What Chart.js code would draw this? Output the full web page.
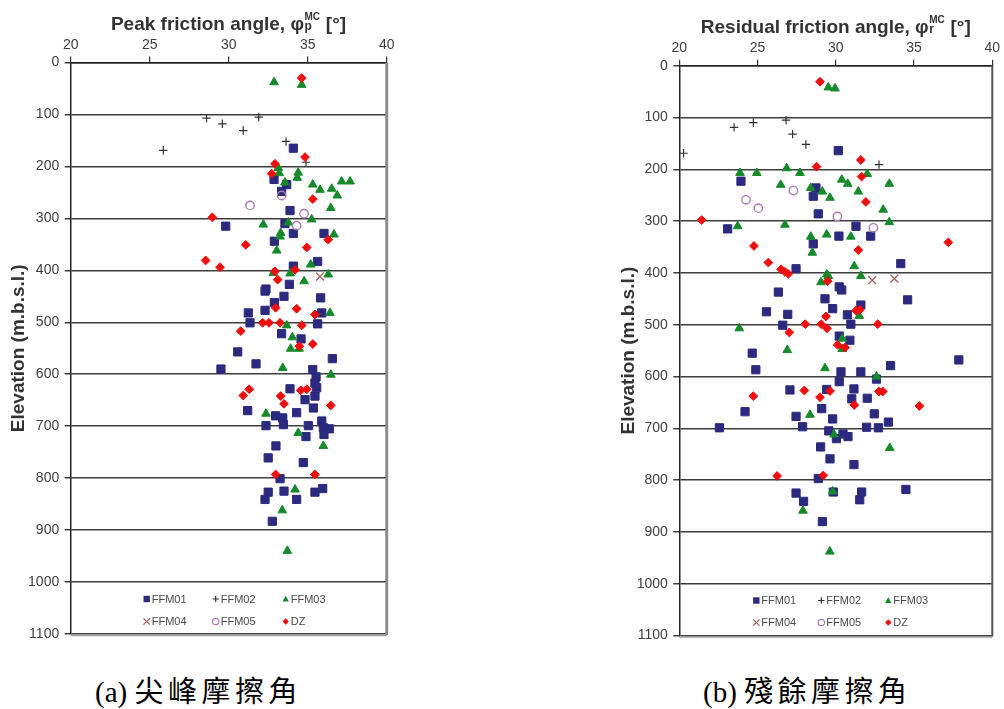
<!DOCTYPE html>
<html><head><meta charset="utf-8">
<script src="https://cdn.jsdelivr.net/npm/chart.js@4"></script>
<style>
html,body{margin:0;padding:0;background:#fff;width:1004px;height:709px;overflow:hidden;}
canvas{position:absolute;top:0;}
.cap{position:absolute;font-size:29px;line-height:32px;color:#000;white-space:nowrap;font-family:"Liberation Serif","DejaVu Serif",serif;}
.cap .cj{font-family:"Noto Sans CJK TC","Noto Sans CJK SC",sans-serif;letter-spacing:4.5px;font-weight:400;}
</style></head>
<body>
<canvas id="peak" width="400" height="650" style="left:0px"></canvas>
<canvas id="resid" width="394" height="650" style="left:610px"></canvas>
<div class="cap" style="left:95px;top:673px">(a) <span class="cj">尖峰摩擦角</span></div>
<div class="cap" style="left:703px;top:673px">(b) <span class="cj">殘餘摩擦角</span></div>
<script>
// ---------- data (friction angle [deg], elevation [m.b.s.l.]) ----------
const seriesNames = ['FFM01','FFM02','FFM03','FFM04','FFM05','DZ'];
const angleTicks = [20,25,30,35,40];
const elevTicks = [0,100,200,300,400,500,600,700,800,900,1000,1100];
const elevTitle = 'Elevation (m.b.s.l.)';
const titlePeak = ['Peak friction angle, \u03C6','p','MC',' [\u00B0]'];
const titleResid = ['Residual friction angle, \u03C6','r','MC',' [\u00B0]'];

const peakFFM01 = [[34.09,165],[32.87,225],[33.67,235],[33.35,248],[33.88,285],[29.81,315],[33.56,310],[34.09,329],[36.03,329],[32.89,344],[35.63,383],[34.09,392],[33.84,427],[32.36,436],[32.30,440],[33.5,450],[35.82,453],[32.89,462],[31.24,482],[32.3,477],[35.89,482],[31.35,501],[35.63,503],[33.35,522],[34.58,532],[30.57,557],[31.73,580],[36.56,570],[29.51,590],[35.32,591],[35.53,605],[35.46,617],[35.57,626],[33.88,628],[35.46,642],[34.83,649],[35.36,665],[31.2,670],[34.3,674],[32.97,680],[33.42,684],[33.46,697],[32.36,699],[35.04,699],[35.89,690],[35.99,703],[36.37,705],[36.03,716],[34.89,720],[32.99,738],[32.5,761],[34.72,770],[33.25,801],[32.5,827],[33.5,825],[35.46,827],[35.95,820],[32.3,841],[34.3,841],[32.76,883]];
const peakFFM02 = [[28.6,107],[29.6,118],[30.92,131],[31.9,105],[25.86,169],[33.63,152],[34.89,192]];
const peakFFM03 = [[32.87,38],[34.62,43],[33.14,203],[33.2,213],[34.4,212],[34.34,222],[33.56,231],[35.32,235],[35.78,245],[36.52,243],[37.15,229],[37.68,229],[36.87,256],[36.46,280],[32.19,312],[33.77,308],[35.25,302],[33.29,328],[33.25,335],[36.66,331],[33.04,362],[35.19,389],[32.82,405],[33.88,406],[36.3,408],[34.77,421],[36.41,482],[33.67,506],[34.03,529],[33.92,551],[34.45,551],[33.42,588],[36.47,601],[32.36,676],[34.4,713],[35.99,738],[34.2,822],[33.39,862],[33.71,940]];
const peakFFM04 = [[35.78,412]];
const peakFFM05 = [[33.35,256],[31.35,275],[34.77,291],[34.3,314]];
const peakDZ = [[34.62,30],[34.83,182],[32.93,195],[32.72,214],[35.32,263],[28.96,298],[36.3,341],[31.08,351],[34.94,356],[28.54,381],[29.45,394],[34.2,399],[32.93,402],[33.1,418],[32.97,472],[34.3,474],[35.46,485],[32.15,501],[32.55,501],[33.25,501],[34.62,506],[30.76,517],[35.32,542],[34.47,546],[31.3,629],[30.92,641],[34.56,631],[34.94,629],[33.29,642],[33.5,657],[36.46,660],[32.97,793],[35.46,793]];

const residFFM01 = [[30.16,164],[23.94,223],[28.73,236],[28.56,252],[28.88,286],[23.09,315],[31.29,310],[30.2,329],[32.23,329],[28.56,344],[27.46,392],[34.15,382],[26.33,437],[30.22,427],[30.38,433],[34.59,452],[29.31,450],[29.8,469],[25.57,475],[26.93,480],[31.6,462],[30.74,481],[26.61,501],[30.96,499],[30.22,522],[30.9,530],[24.66,555],[37.86,568],[24.89,587],[30.33,591],[31.6,591],[33.5,579],[32.6,605],[30.22,610],[27.07,626],[29.42,625],[31.16,624],[31.02,643],[32.01,642],[29.1,662],[24.2,668],[27.46,677],[29.8,682],[32.46,672],[33.36,688],[22.56,699],[27.88,697],[31.97,698],[32.72,699],[29.55,705],[30.04,720],[30.46,711],[30.78,716],[29.03,736],[29.63,759],[31.16,770],[28.88,797],[27.46,825],[29.84,823],[31.65,823],[34.48,818],[27.94,841],[31.53,838],[29.14,880]];
const residFFM02 = [[20.27,169],[23.5,119],[24.73,110],[26.82,105],[27.24,132],[28.09,152],[32.76,191]];
const residFFM03 = [[29.52,42],[29.95,44],[32.01,209],[23.88,207],[24.95,207],[26.86,198],[27.71,207],[26.48,230],[28.4,236],[29.14,243],[29.63,255],[30.38,220],[30.76,228],[31.44,243],[33.42,228],[33.03,278],[23.73,310],[26.75,307],[33.42,302],[29.42,326],[30.96,330],[28.4,330],[28.5,361],[31.18,387],[29.42,403],[29.52,406],[29.05,418],[31.6,406],[31.5,483],[23.83,507],[30.41,527],[30.41,547],[26.9,549],[29.31,584],[32.6,600],[28.35,674],[29.89,712],[33.45,738],[29.8,822],[27.9,859],[29.62,938]];
const residFFM04 = [[32.33,414],[33.74,411]];
const residFFM05 = [[27.29,241],[24.26,259],[25.05,275],[30.1,291],[32.4,313]];
const residDZ = [[28.99,31],[31.6,182],[28.77,195],[31.65,214],[31.92,263],[21.43,298],[37.19,341],[24.77,348],[31.44,356],[25.69,380],[26.5,393],[26.75,398],[26.96,402],[29.48,416],[31.29,473],[31.54,471],[29.37,484],[28.05,499],[29.07,499],[29.44,507],[32.68,499],[27.03,515],[30.12,539],[30.59,544],[27.99,627],[29.63,628],[32.76,629],[33.0,629],[24.73,638],[28.99,640],[31.18,655],[35.34,657],[26.25,792],[29.2,791]];

// ---------- styles ----------
const FONT = '"Liberation Sans", Arial, sans-serif';
const styles = [
  {shape:'rect',     r:5.8, color:'#2b2a7e', fill:'#2b2a7e', bw:1},
  {shape:'cross',    r:4.2, color:'#333333', fill:'#333333', bw:1.2},
  {shape:'triangle', r:5.0, color:'#168a2a', fill:'#168a2a', bw:1},
  {shape:'crossRot', r:5.6, color:'#a65a58', fill:'#a65a58', bw:1.3},
  {shape:'circle',   r:4.2, color:'#b07ab8', fill:'rgba(0,0,0,0)', bw:1.4},
  {shape:'rectRot',  r:4.4, color:'#f20d0d', fill:'#f20d0d', bw:1}
];

function legendMark(ctx, s, x, y, r) {
  ctx.save();
  ctx.strokeStyle = s.color; ctx.fillStyle = s.color; ctx.lineWidth = 1.2;
  ctx.beginPath();
  switch (s.shape) {
    case 'rect': ctx.rect(x-r, y-r, 2*r, 2*r); ctx.fill(); break;
    case 'cross': ctx.moveTo(x-r,y); ctx.lineTo(x+r,y); ctx.moveTo(x,y-r); ctx.lineTo(x,y+r); ctx.stroke(); break;
    case 'triangle': ctx.moveTo(x,y-r); ctx.lineTo(x+r,y+r*0.8); ctx.lineTo(x-r,y+r*0.8); ctx.closePath(); ctx.fill(); break;
    case 'crossRot': ctx.moveTo(x-r,y-r); ctx.lineTo(x+r,y+r); ctx.moveTo(x+r,y-r); ctx.lineTo(x-r,y+r); ctx.stroke(); break;
    case 'circle': ctx.arc(x,y,r,0,Math.PI*2); ctx.stroke(); break;
    case 'rectRot': ctx.moveTo(x,y-r); ctx.lineTo(x+r,y); ctx.lineTo(x,y+r); ctx.lineTo(x-r,y); ctx.closePath(); ctx.fill(); break;
  }
  ctx.restore();
}

function drawXTitle(ctx, parts, cx, base) {
  const big = 'bold 19px ' + FONT;
  ctx.save();
  ctx.fillStyle = '#333'; ctx.textBaseline = 'alphabetic'; ctx.textAlign = 'left';
  ctx.font = big;
  const w1 = ctx.measureText(parts[0]).width, w4 = ctx.measureText(parts[3]).width;
  ctx.font = 'bold 10px ' + FONT;
  const wsup = ctx.measureText(parts[2]).width;
  ctx.font = 'bold 12px ' + FONT;
  const wsub = ctx.measureText(parts[1]).width;
  const ws = Math.max(wsup, wsub) + 1;
  let x = cx - (w1 + ws + w4) / 2;
  ctx.font = big; ctx.fillText(parts[0], x, base); x += w1;
  ctx.font = 'bold 10px ' + FONT; ctx.fillText(parts[2], x + 0.5, base - 9.5);
  ctx.font = 'bold 12px ' + FONT; ctx.fillText(parts[1], x + 0.5, base);
  x += ws;
  ctx.font = big; ctx.fillText(parts[3], x, base);
  ctx.restore();
}

const framePlugin = {
  id: 'frame',
  afterDraw(chart, args, o) {
    const {ctx, chartArea: a} = chart;
    ctx.save();
    ctx.strokeStyle = o.rightColor; ctx.lineWidth = o.rightWidth;
    ctx.beginPath(); ctx.moveTo(a.right, a.top); ctx.lineTo(a.right, a.bottom + 1); ctx.stroke();
    ctx.strokeStyle = '#9a9a9a'; ctx.lineWidth = 1.2;
    ctx.beginPath(); ctx.moveTo(a.left, a.bottom + 1.6); ctx.lineTo(a.right, a.bottom + 1.6); ctx.stroke();
    ctx.restore();
    ctx.save();
    ctx.font = '11px ' + FONT; ctx.fillStyle = '#4a4a4a';
    ctx.textBaseline = 'middle'; ctx.textAlign = 'left';
    seriesNames.forEach((name, i) => {
      const col = i % 3, row = Math.floor(i / 3);
      const mx = a.left + o.cols[col];
      const my = a.bottom + o.rows[row];
      legendMark(ctx, styles[i], mx, my, 3.2);
      ctx.fillText(name, mx + 5, my + 0.5);
    });
    ctx.restore();
    drawXTitle(ctx, o.title, o.titleX, o.titleY);
  }
};

function build(id, series, opt) {
  const datasets = series.map((pts, i) => ({
    label: seriesNames[i],
    data: pts.map(p => ({x: p[0], y: p[1]})),
    pointStyle: styles[i].shape,
    pointRadius: styles[i].r,
    pointHoverRadius: styles[i].r,
    backgroundColor: styles[i].fill,
    borderColor: styles[i].color,
    borderWidth: styles[i].bw,
    order: 10 - i
  }));
  return new Chart(document.getElementById(id), {
    type: 'scatter',
    data: {datasets},
    options: {
      responsive: false, animation: false, events: [],
      layout: {padding: {left: 0, top: 0, right: opt.padR, bottom: opt.padB}},
      plugins: {
        legend: {display: false}, tooltip: {enabled: false},
        frame: {cols: opt.cols, rows: opt.rows, title: opt.title, titleX: opt.titleX, titleY: opt.titleY,
                rightColor: opt.rightColor, rightWidth: opt.rightWidth}
      },
      scales: {
        x: {
          type: 'linear', position: 'top', min: 20, max: 40,
          afterBuildTicks: s => { s.ticks = angleTicks.map(v => ({value: v})); },
          afterFit: s => { s.height = opt.axisH; },
          grid: {drawOnChartArea: false, drawTicks: true, tickLength: 6, color: '#333', lineWidth: 1.2},
          border: {display: true, color: '#222', width: 1.5},
          ticks: {font: {family: FONT, size: 14}, color: '#404040', padding: 3, maxRotation: 0,
                  callback: v => String(v)}
        },
        y: {
          type: 'linear', position: 'left', min: 0, max: 1100, reverse: true,
          afterBuildTicks: s => { s.ticks = elevTicks.map(v => ({value: v})); },
          afterFit: s => { s.width = opt.axisW; },
          grid: {color: '#3d3d3d', lineWidth: 1.5, drawTicks: true, tickLength: 6},
          border: {display: true, color: '#222', width: 1.5},
          ticks: {font: {family: FONT, size: 14}, color: '#404040', padding: 5.5,
                  callback: v => String(v)},
          title: {display: true, text: elevTitle, color: '#333',
                  font: {family: FONT, size: 19, weight: 'bold'}, padding: {top: 7, bottom: 0}}
        }
      }
    },
    plugins: [framePlugin]
  });
}

build('peak', [peakFFM01, peakFFM02, peakFFM03, peakFFM04, peakFFM05, peakDZ], {
  axisW: 70.7, axisH: 62.5, padR: 13.3, padB: 16,
  cols: [76, 145, 215], rows: [-35, -12.5],
  title: titlePeak, titleX: 228.5, titleY: 29.5,
  rightColor: '#8c8c8c', rightWidth: 3
});
build('resid', [residFFM01, residFFM02, residFFM03, residFFM04, residFFM05, residDZ], {
  axisW: 69.3, axisH: 65.7, padR: 11.7, padB: 14.5,
  cols: [77, 142, 209], rows: [-35, -13],
  title: titleResid, titleX: 225.8, titleY: 32.7,
  rightColor: '#555', rightWidth: 2
});
</script>
</body></html>
